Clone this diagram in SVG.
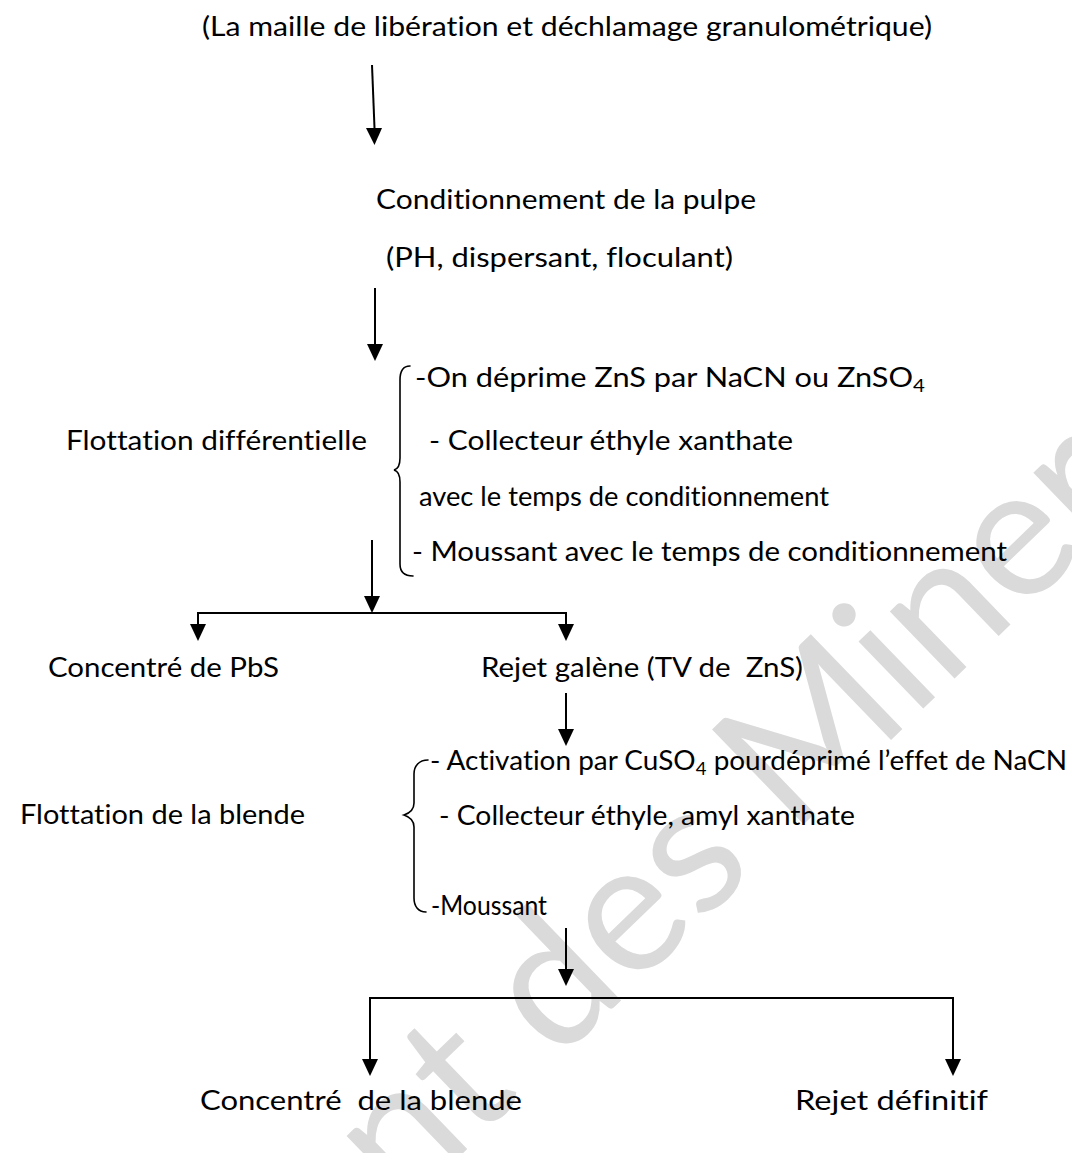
<svg xmlns="http://www.w3.org/2000/svg" width="1072" height="1153" viewBox="0 0 1072 1153">
  <style>
    .t { font-family: Lato, "Open Sans", "Liberation Sans", sans-serif; font-size: 27px; fill: #000; font-variant-ligatures: none; font-feature-settings: "liga" 0, "dlig" 0, "clig" 0; }
    .sub { font-size: 18px; }
    .wire { fill: none; stroke: #000; stroke-width: 2; }
    .arrow { fill: none; stroke: #000; stroke-width: 2; }
    .head { fill: #000; }
    .brace { fill: none; stroke: #000; stroke-width: 1.6; stroke-linecap: round; }
    .mark { font-family: Lato, "Open Sans", sans-serif; font-size: 184px; fill: #dadada; font-variant-ligatures: none; }
  </style>
  <rect width="1072" height="1153" fill="#fff"/>

  <!-- background watermark -->
  <text class="mark" transform="translate(402,1212) rotate(-44)">nt des Minerai</text>

  <!-- flow connectors -->
  <g id="connectors">
    <path class="arrow" d="M372,65 L374.5,128"/>
    <path class="head" d="M366,128 L382,128 L374.5,145 Z"/>
    <path class="arrow" d="M375,288 L375,344"/>
    <path class="head" d="M367,344 L383,344 L375,361 Z"/>
    <path class="arrow" d="M372,540 L372,596"/>
    <path class="head" d="M364,596 L380,596 L372,613 Z"/>
    <path class="wire" d="M198,630 L198,613 L566,613 L566,630"/>
    <path class="head" d="M190,624 L206,624 L198,641 Z"/>
    <path class="head" d="M558,624 L574,624 L566,641 Z"/>
    <path class="arrow" d="M566,693 L566,729"/>
    <path class="head" d="M558,729 L574,729 L566,746 Z"/>
    <path class="arrow" d="M566,928 L566,969"/>
    <path class="head" d="M558,969 L574,969 L566,986 Z"/>
    <path class="wire" d="M370,1060 L370,998 L953,998 L953,1060"/>
    <path class="head" d="M362,1059 L378,1059 L370,1076 Z"/>
    <path class="head" d="M945,1059 L961,1059 L953,1076 Z"/>
  </g>

  <!-- braces grouping the reagent lists -->
  <g id="brace-1">
    <path class="brace" d="M410,366 C403,366 400,371 400,380 L400,458 C400,466 398,469 394,470 C398,471 400,474 400,482 L400,564 C400,572 405,576 413,576"/>
  </g>
  <g id="brace-2">
    <path class="brace" d="M428,760 C419,760 414,766 414,774 L414,803 C414,810 410,813 404,815 C410,817 414,820 414,827 L414,898 C414,906 418,912 426,912"/>
  </g>

  <g id="node-title">
    <text class="t" x="202" y="36" textLength="730" lengthAdjust="spacingAndGlyphs">(La maille de libération et déchlamage granulométrique)</text>
  </g>
  <g id="node-conditionnement">
    <text class="t" x="376" y="209" textLength="380" lengthAdjust="spacingAndGlyphs">Conditionnement de la pulpe</text>
    <text class="t" x="386" y="267" textLength="347" lengthAdjust="spacingAndGlyphs">(PH, dispersant, floculant)</text>
  </g>
  <g id="node-flottation-diff">
    <text class="t" x="66" y="450" textLength="301" lengthAdjust="spacingAndGlyphs">Flottation différentielle</text>
  </g>
  <g id="node-reactifs-1">
    <text class="t" x="415" y="387" textLength="510" lengthAdjust="spacingAndGlyphs">-On déprime ZnS par NaCN ou ZnSO<tspan class="sub" dy="5">4</tspan></text>
    <text class="t" x="429" y="450" textLength="364" lengthAdjust="spacingAndGlyphs">- Collecteur éthyle xanthate</text>
    <text class="t" x="419" y="506" textLength="410" lengthAdjust="spacingAndGlyphs">avec le temps de conditionnement</text>
    <text class="t" x="412" y="561" textLength="595" lengthAdjust="spacingAndGlyphs">- Moussant avec le temps de conditionnement</text>
  </g>
  <g id="node-concentre-pbs">
    <text class="t" x="48" y="677" textLength="231" lengthAdjust="spacingAndGlyphs">Concentré de PbS</text>
  </g>
  <g id="node-rejet-galene">
    <text class="t" x="481" y="677" textLength="322" lengthAdjust="spacingAndGlyphs">Rejet galène (TV de&#160; ZnS)</text>
  </g>
  <g id="node-flottation-blende">
    <text class="t" x="20" y="824" textLength="285" lengthAdjust="spacingAndGlyphs">Flottation de la blende</text>
  </g>
  <g id="node-reactifs-2">
    <text class="t" x="430" y="770" textLength="637" lengthAdjust="spacingAndGlyphs">- Activation par CuSO<tspan class="sub" dy="5">4</tspan><tspan dy="-5"> pourdéprimé l’effet de NaCN</tspan></text>
    <text class="t" x="439" y="825" textLength="416" lengthAdjust="spacingAndGlyphs">- Collecteur éthyle, amyl xanthate</text>
    <text class="t" x="431" y="915" textLength="116" lengthAdjust="spacingAndGlyphs">-Moussant</text>
  </g>
  <g id="node-concentre-blende">
    <text class="t" x="200" y="1110" textLength="322" lengthAdjust="spacingAndGlyphs">Concentré&#160; de la blende</text>
  </g>
  <g id="node-rejet-definitif">
    <text class="t" x="795" y="1110" textLength="193" lengthAdjust="spacingAndGlyphs">Rejet définitif</text>
  </g>
</svg>
